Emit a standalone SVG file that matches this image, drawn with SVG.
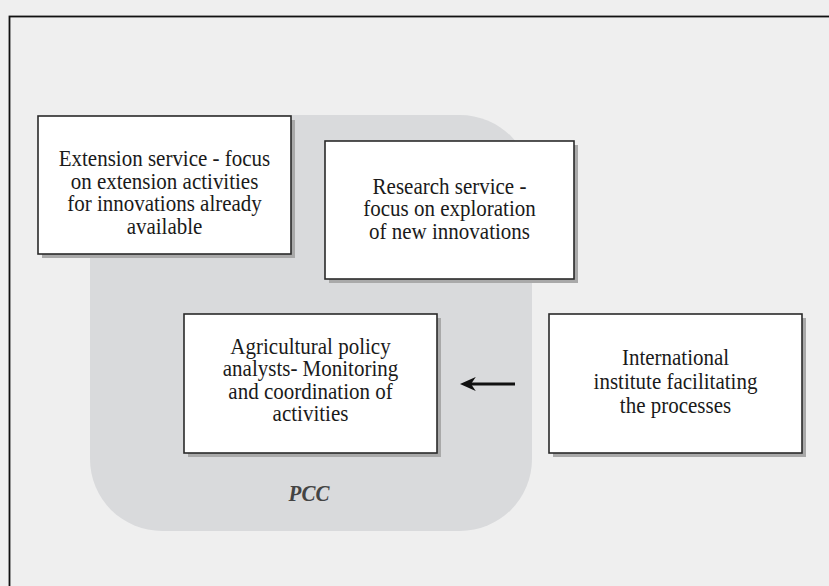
<svg xmlns="http://www.w3.org/2000/svg" width="829" height="586" viewBox="0 0 829 586">
<defs>
<style>
.box{fill:#fff;stroke:#2a2a2a;stroke-width:1.6}
.sh{fill:#a9a9a9}
.t{font-family:"Liberation Serif","Times New Roman",serif;font-size:21px;fill:#1a1a1a;text-anchor:middle}
.pcc{font-family:"Liberation Serif","Times New Roman",serif;font-size:21px;font-style:italic;font-weight:bold;fill:#444;text-anchor:middle}
</style>
<marker id="ah" viewBox="0 0 10 10" refX="3" refY="5" markerWidth="5" markerHeight="4.4" orient="auto" markerUnits="strokeWidth" preserveAspectRatio="none">
<path d="M10,5 L0,0 L3,5 L0,10 Z" fill="#111"/>
</marker>
</defs>
<rect x="0" y="0" width="829" height="586" fill="#efefef"/>
<rect x="9.5" y="16.5" width="830" height="580" fill="none" stroke="#111" stroke-width="1.8"/>
<g id="pcc">
<rect x="90" y="115" width="442" height="416" rx="72" ry="72" fill="#d9dadc"/>
<text class="pcc" transform="translate(309,501) scale(1,1.1)">PCC</text>
</g>
<g id="extension">
<rect class="sh" x="42" y="120" width="253" height="138"/>
<rect class="box" x="38" y="116" width="253" height="138"/>
<text class="t" transform="translate(164.5,165.5) scale(1,1.07)">Extension service - focus</text>
<text class="t" transform="translate(164.5,188.5) scale(1,1.07)">on extension activities</text>
<text class="t" transform="translate(164.5,211) scale(1,1.07)">for innovations already</text>
<text class="t" transform="translate(164.5,233.5) scale(1,1.07)">available</text>
</g>
<g id="research">
<rect class="sh" x="329" y="145" width="249" height="138"/>
<rect class="box" x="325" y="141" width="249" height="138"/>
<text class="t" transform="translate(449.5,193.5) scale(1,1.07)">Research service -</text>
<text class="t" transform="translate(449.5,216) scale(1,1.07)">focus on exploration</text>
<text class="t" transform="translate(449.5,238.5) scale(1,1.07)">of new innovations</text>
</g>
<g id="agricultural">
<rect class="sh" x="188" y="318" width="253" height="139"/>
<rect class="box" x="184" y="314" width="253" height="139"/>
<text class="t" transform="translate(310.5,353.5) scale(1,1.07)">Agricultural policy</text>
<text class="t" transform="translate(310.5,376) scale(1,1.07)">analysts- Monitoring</text>
<text class="t" transform="translate(310.5,398.5) scale(1,1.07)">and coordination of</text>
<text class="t" transform="translate(310.5,421) scale(1,1.07)">activities</text>
</g>
<g id="international">
<rect class="sh" x="553" y="318" width="253" height="139"/>
<rect class="box" x="549" y="314" width="253" height="139"/>
<text class="t" transform="translate(675.5,365) scale(1,1.07)">International</text>
<text class="t" transform="translate(675.5,389) scale(1,1.07)">institute facilitating</text>
<text class="t" transform="translate(675.5,412.5) scale(1,1.07)">the processes</text>
</g>
<g id="connectors">
<line x1="515" y1="384" x2="471" y2="384" stroke="#111" stroke-width="3.2" marker-end="url(#ah)"/>
</g>
</svg>
